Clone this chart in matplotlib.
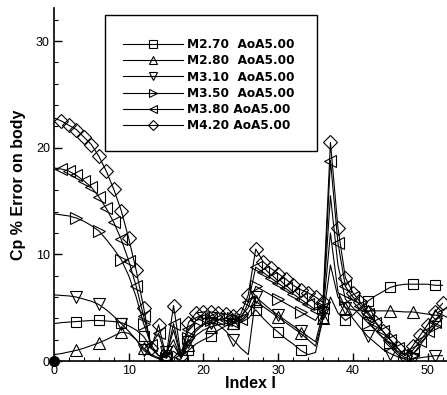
import matplotlib

matplotlib.use("Agg")
import matplotlib.pyplot as plt
from matplotlib.patches import Rectangle

plt.rcParams["font.family"] = ["Liberation Sans", "DejaVu Sans"]

# ---------------------------------------------------------------------------
# Data
# ---------------------------------------------------------------------------

index_i = list(range(53))

m270 = [3.5, 3.6, 3.65, 3.7, 3.75, 3.8, 3.8, 3.75, 3.7, 3.6,
        3.3, 2.9, 2.3, 1.2, 0.5, 0.6, 0.9, 0.4, 1.0, 1.6,
        2.0, 2.3, 2.9, 3.3, 3.5, 3.6, 4.0, 4.8, 4.0, 3.3,
        2.7, 2.1, 1.6, 1.0, 0.6, 0.8, 4.0, 6.0, 4.5, 3.8,
        4.3, 5.0, 5.6, 6.1, 6.5, 6.9, 7.1, 7.2, 7.2, 7.2,
        7.2, 7.1, 7.1]
m280 = [0.6, 0.7, 0.85, 1.0, 1.2, 1.45, 1.7, 2.0, 2.35, 2.7,
        2.6, 2.0, 1.2, 0.6, 0.3, 0.5, 2.9, 0.3, 1.5, 2.4,
        2.9, 3.2, 3.4, 3.5, 3.6, 3.8, 4.5, 5.6, 5.1, 4.6,
        4.1, 3.6, 3.1, 2.6, 2.0, 1.4, 4.0, 9.0, 6.0, 5.0,
        4.8, 4.7, 4.7, 4.7, 4.7, 4.7, 4.65, 4.6, 4.6, 4.5,
        4.4, 4.3, 4.2]
m310 = [6.2, 6.15, 6.1, 6.0, 5.8, 5.6, 5.3, 4.8, 4.2, 3.5,
        2.8, 2.0, 1.0, 0.5, 0.2, 0.8, 2.0, 0.2, 1.8, 2.8,
        3.4, 3.6, 3.4, 2.8, 2.0, 1.2, 0.6, 6.0, 5.4, 4.8,
        4.3, 3.8, 3.3, 2.8, 2.3, 1.8, 4.5, 12.0, 6.5, 5.0,
        4.0, 3.1, 2.3, 1.7, 1.1, 0.7, 0.4, 0.2, 0.2, 0.3,
        0.4, 0.5, 0.5]
m350 = [13.8, 13.7, 13.6, 13.4, 13.1, 12.7, 12.2, 11.4, 10.5, 9.5,
        8.0, 6.0, 3.5, 1.5, 0.5, 0.3, 1.5, 0.3, 2.2, 3.0,
        3.5, 3.8, 3.9, 4.0, 4.0, 4.2, 5.0, 7.0, 6.6, 6.2,
        5.8, 5.4, 5.0, 4.6, 4.2, 3.8, 5.0, 15.5, 9.0, 5.8,
        5.0, 4.3, 3.6, 2.9, 2.2, 1.5, 0.8, 0.3, 0.6, 1.5,
        2.4, 3.3, 4.0]
m380 = [18.1, 18.0, 17.8, 17.4, 16.9, 16.3, 15.4, 14.3, 13.0, 11.4,
        9.4, 7.0, 4.2, 1.5, 2.6, 0.3, 3.5, 0.4, 3.0, 3.8,
        4.0, 4.0, 3.9, 3.8, 3.7, 3.9, 5.5, 8.8, 8.3, 7.8,
        7.3, 6.8, 6.3, 5.8, 5.3, 4.8, 5.0, 18.8, 11.1, 7.0,
        6.0, 5.2, 4.4, 3.6, 2.8, 2.0, 1.2, 0.5, 1.0, 1.9,
        2.8, 3.7, 4.6]
m420 = [22.8, 22.5, 22.1, 21.7, 21.0, 20.3, 19.2, 17.8, 16.1, 14.1,
        11.5, 8.5, 5.0, 1.2, 3.4, 0.4, 5.2, 0.5, 3.6, 4.5,
        4.6, 4.6, 4.5, 4.4, 4.2, 4.4, 6.2, 10.5, 9.3, 8.7,
        8.2, 7.7, 7.1, 6.7, 6.4, 6.0, 5.5, 20.5, 12.5, 7.8,
        6.4, 5.5, 4.6, 3.7, 2.8, 2.0, 1.2, 0.5, 1.4, 2.4,
        3.4, 4.6, 5.4]

origin_x = [0]
origin_y = [0]

labels = ["M2.70  AoA5.00", "M2.80  AoA5.00", "M3.10  AoA5.00",
          "M3.50  AoA5.00", "M3.80 AoA5.00", "M4.20 AoA5.00"]
series = [m270, m280, m310, m350, m380, m420]
markers = ["s", "^", "v", ">", "<", "D"]
msizes = [7, 8, 8, 8, 8, 7]
skips = [(3, 3), (3, 3), (3, 3), (3, 3), (1, 1), (1, 1)]


def main() -> None:
    fig = plt.figure(figsize=(4.47, 3.95), dpi=100)
    ax = fig.add_axes([54 / 447, 34 / 395, 1 - 54 / 447, 353 / 395])

    handles = []
    for vals, lab, mk, ms, sk in zip(series, labels, markers, msizes, skips):
        (h,) = ax.plot(index_i, vals, color="black", lw=0.8, marker=mk,
                       ms=ms, mfc="none", mec="black", mew=0.8,
                       markevery=sk, label=lab)
        handles.append(h)
    ax.plot(origin_x, origin_y, "o", color="black", ms=7, clip_on=False)

    ax.set_xlim(0, 52.6)
    ax.set_ylim(0, 33.1)
    ax.set_xticks(range(0, 51, 10))
    ax.set_xticks(range(0, 53, 2), minor=True)
    ax.set_yticks(range(0, 31, 10))
    ax.set_yticks(range(0, 33, 2), minor=True)
    ax.tick_params(direction="in", labelsize=9, width=1, length=6, pad=3)
    ax.tick_params(which="minor", direction="in", width=0.8, length=3)
    for side in ("top", "right"):
        ax.spines[side].set_visible(False)
    for side in ("left", "bottom"):
        ax.spines[side].set_linewidth(1.2)

    ax.set_xlabel("Index I", fontsize=11.5, fontweight="bold", labelpad=-1)
    ax.set_ylabel("Cp % Error on body", fontsize=11.5, fontweight="bold",
                  labelpad=7)

    # legend: boxed area with entries in its middle
    fig.patches.append(Rectangle((105 / 447, 1 - 151 / 395), 212 / 447,
                                 136 / 395, transform=fig.transFigure,
                                 fill=False, ec="black", lw=1))
    fig.legend(handles=handles, loc="upper left",
               bbox_to_anchor=(117 / 447, 1 - 32 / 395), frameon=False,
               prop={"family": "DejaVu Sans", "weight": "bold", "size": 8.7},
               handlelength=5.0, handletextpad=0.3, labelspacing=0.27,
               markerscale=0.8, borderpad=0)

    fig.savefig("out.png", dpi=100)
    plt.close(fig)


if __name__ == "__main__":
    main()
